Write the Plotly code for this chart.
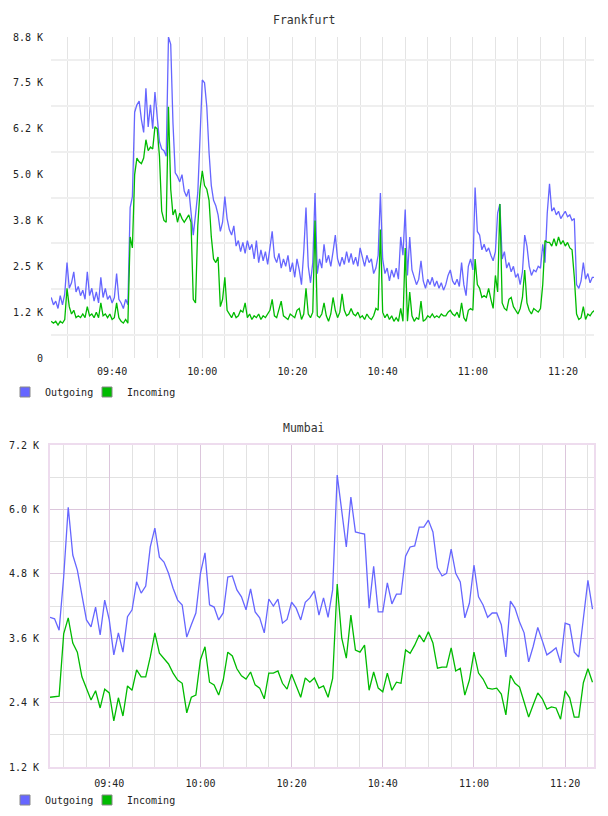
import plotly.graph_objects as go
import pandas as pd

# ---------------- data ----------------
fra_start = "2024-01-01 09:26:30"   # 30 s samples
fra_out = [
    1650, 1450, 1550, 1350, 1700, 1450, 1750, 2600, 1900, 2050,
    2350, 1800, 1950, 1700, 1850, 1600, 2350, 1700, 1900, 1550,
    1800, 1500, 2200, 1650, 1900, 1600, 1700, 1500, 1650, 2300,
    1600, 1500, 1350, 1600, 1450, 4100, 4400, 6700, 6900, 7000,
    6500, 6150, 7350, 6300, 6900, 6250, 7250, 6600, 5900, 5700,
    5650, 5500, 8750, 8550, 6400, 5050, 4950, 4800, 5000, 4550,
    4400, 4600, 4000, 3350, 3900, 4500, 6000, 7580, 7500, 6850,
    5600, 4700, 4300, 4150, 3900, 3450, 3700, 4400, 3800, 3500,
    3350, 3600, 3050, 3200, 2900, 3150, 2850, 3200, 2950, 3100,
    2700, 3200, 2600, 2950, 2650, 2900, 2550, 3000, 3450, 2750,
    2600, 2850, 2450, 2700, 2500, 2800, 2350, 2600, 2200, 2700,
    2400, 2000, 2900, 4100, 2500, 2050, 2600, 4500, 2300, 2700,
    2450, 3100, 2600, 2800, 2500, 2900, 3350, 2700, 2500, 2750,
    2550, 2900, 2600, 2850, 2550, 2750, 2500, 3000, 2700, 2500,
    2800, 2600, 2700, 2300, 2450, 2800, 4500, 2700, 2300, 2450,
    2100, 2400, 2200, 2450, 2150, 3300, 2800, 4050, 2250, 3300,
    2400, 2200, 2000, 2150, 2650, 2100, 1900, 2150, 2000, 2200,
    1950, 2100, 1900, 2050, 1850, 2000, 2250, 2400, 2100, 2000,
    2150, 1950, 2600, 2000, 1700, 2500, 2700, 2400, 4650, 3450,
    3350, 2950, 3100, 2900, 3000, 2800, 2650, 2900, 3950, 4200,
    2700, 2900, 2450, 2600, 2350, 2500, 2200, 2300, 2000, 2350,
    3350, 3050, 2500, 2250, 2400, 2350, 2500, 2450, 3100, 2600,
    3950, 4750, 4000, 4100, 3900, 4000, 3800, 3900, 4000, 3850,
    3900, 3750, 3800, 2000, 1900, 2100, 2600, 2150, 2300, 2050,
    2200, 2200,
]
fra_in = [
    1000, 950, 1000, 900, 1000, 950, 1050, 1900, 1400, 1200,
    1300, 1100, 1150, 1100, 1200, 1100, 1400, 1150, 1200, 1100,
    1250, 1100, 1500, 1150, 1200, 1100, 1200, 1050, 1100, 1500,
    1100, 1000, 950, 1050, 950, 3300, 3000, 5000, 5450, 5350,
    5300, 5450, 5950, 5650, 5750, 5700, 6300, 6250, 5500, 4000,
    3750, 3700, 6850, 4600, 3900, 4050, 3700, 3950, 3800, 3700,
    3800, 3900, 3700, 1600, 1500, 3600, 4600, 5100, 4700, 4600,
    4300, 3300, 2700, 2600, 2750, 1400, 1600, 2200, 1300, 1200,
    1100, 1250, 1100, 1150, 1300, 1250, 1500, 1100, 1200, 1050,
    1150, 1100, 1200, 1050, 1150, 1100, 1200, 1300, 1600, 1150,
    1100, 1300, 1550, 1150, 1100, 1050, 1200, 1150, 1100, 1300,
    1350, 1050, 1200, 1900, 1200, 1100, 1250, 3750, 1150, 1100,
    1200, 1500, 1150, 1000, 1200, 1650, 1300, 1100, 1250, 1750,
    1300, 1150, 1200, 1350, 1200, 1150, 1250, 1100, 1150, 1050,
    1200, 1100, 1050, 1150, 1350, 1300, 3500, 1250, 1100, 1200,
    1050, 1150, 1000, 1100, 1000, 1350, 1000, 3000, 1000, 1800,
    1150, 1000, 1100, 1050, 1550, 1000, 1050, 1150, 1100, 1200,
    1100, 1150, 1100, 1200, 1150, 1150, 1250, 1300, 1200, 1150,
    1250, 1100, 1500, 1100, 1000, 1300, 1350, 1300, 2700, 2000,
    1900, 1650, 1700, 1650, 1900, 1600, 1350, 2250, 1800, 4200,
    1500, 1350, 1300, 1600, 1650, 1400, 1300, 1200, 1350, 1650,
    2400, 1500, 1300, 1200, 1350, 1300, 1250, 1350, 2000, 3200,
    3150, 3150, 3050, 3250, 3050, 3300, 3100, 3200, 3050, 3150,
    3000, 2950, 2200, 1200, 1050, 1100, 1400, 1050, 1200, 1150,
    1250, 1300,
]

mum_start = "2024-01-01 09:27:00"   # 1 min samples
mum_out = [
    3990, 3960, 3750, 4740, 6040, 5150, 4870, 4400, 3940, 3810,
    4180, 3660, 4310, 3940, 3290, 3700, 3340, 4000, 4130, 4650,
    4440, 4570, 5300, 5650, 5110, 5020, 4810, 4530, 4310, 4220,
    3620, 3850, 4070, 4810, 5190, 4220, 4180, 3940, 4070, 4740,
    4760, 4500, 4370, 4130, 4520, 4090, 3980, 3700, 4330, 4200,
    4330, 3880, 3950, 4270, 4160, 3940, 4270, 4350, 4480, 4030,
    4350, 3990, 4500, 6640, 5990, 5300, 6230, 5580, 5560, 5540,
    4160, 4940, 4090, 4090, 4630, 4240, 4420, 4420, 5130, 5300,
    5320, 5670, 5670, 5800, 5580, 4910, 4760, 4810, 5260, 4810,
    4650, 3980, 4250, 4960, 4370, 4220, 3990, 4070, 4070, 3850,
    3250, 4290, 4160, 3900, 3700, 3160, 3450, 3800, 3550, 3290,
    3350, 3420, 3140, 3880, 3850, 3340, 3250, 3950, 4680, 4140,
]
mum_in = [
    2500, 2510, 2520, 3680, 3980, 3510, 3340, 2880, 2670, 2450,
    2620, 2300, 2650, 2580, 2060, 2490, 2150, 2710, 2630, 3010,
    2880, 2880, 3250, 3700, 3320, 3210, 3120, 2950, 2820, 2760,
    2210, 2500, 2540, 3200, 3440, 2780, 2730, 2540, 2820, 3340,
    3270, 3030, 2900, 2840, 2970, 2730, 2670, 2470, 2950, 2950,
    2990, 2760, 2650, 2930, 2730, 2500, 2860, 2780, 2860, 2670,
    2710, 2500, 2850, 4610, 3600, 3230, 4030, 3380, 3340, 3470,
    2630, 2970, 2670, 2600, 2950, 2630, 2780, 2760, 3380, 3320,
    3470, 3660, 3530, 3720, 3510, 3040, 3060, 3060, 3420, 2990,
    3040, 2540, 2820, 3340, 2950, 2840, 2670, 2650, 2670, 2560,
    2170, 2910, 2760, 2690, 2410, 2130, 2360, 2580, 2470, 2280,
    2320, 2300, 2090, 2620, 2490, 2130, 2130, 2770, 3030, 2780,
]

fra_yticks = [0, 1250, 2500, 3750, 5000, 6250, 7500, 8750]
fra_ylabels = ["0", "1.2 K", "2.5 K", "3.8 K", "5.0 K", "6.2 K", "7.5 K", "8.8 K"]
mum_yticks = [1200, 2400, 3600, 4800, 6000, 7200]
mum_ylabels = ["1.2 K", "2.4 K", "3.6 K", "4.8 K", "6.0 K", "7.2 K"]
series_names = ["Outgoing", "Incoming"]
titles = ["Frankfurt", "Mumbai"]

# ---------------- figure ----------------
W, H = 608, 816
BLUE = "#6666ff"
GREEN = "#00bb00"
MONO = "DejaVu Sans Mono"

fra_t = pd.date_range(fra_start, periods=len(fra_out), freq="30s")
mum_t = pd.date_range(mum_start, periods=len(mum_out), freq="1min")

fig = go.Figure()
fig.add_trace(go.Scatter(x=fra_t, y=fra_out, mode="lines", line=dict(color=BLUE, width=1.3),
                         xaxis="x", yaxis="y", showlegend=False))
fig.add_trace(go.Scatter(x=fra_t, y=fra_in, mode="lines", line=dict(color=GREEN, width=1.3),
                         xaxis="x", yaxis="y", showlegend=False))
fig.add_trace(go.Scatter(x=mum_t, y=mum_out, mode="lines", line=dict(color=BLUE, width=1.3),
                         xaxis="x2", yaxis="y2", showlegend=False))
fig.add_trace(go.Scatter(x=mum_t, y=mum_in, mode="lines", line=dict(color=GREEN, width=1.3),
                         xaxis="x2", yaxis="y2", showlegend=False))

# legend swatches (one legend box per entry so they can be placed exactly)
legend_ids = [("legend", "legend2"), ("legend3", "legend4")]
for (lo, li), xa, ya in zip(legend_ids, ("x", "x2"), ("y", "y2")):
    for leg, name, col in zip((lo, li), series_names, (BLUE, GREEN)):
        fig.add_trace(go.Scatter(x=[None], y=[None], mode="markers", name=name,
                                 marker=dict(symbol="square", size=10, color=col,
                                             line=dict(color="#888888", width=1)),
                                 xaxis=xa, yaxis=ya, legend=leg, showlegend=True))

def py(px):
    return 1 - px / H

tickfont = dict(family=MONO, size=10, color="#222222")

def legend_box(x_px, y_px):
    return dict(orientation="h", x=x_px / W, xanchor="left", y=py(y_px), yanchor="middle",
                font=dict(family=MONO, size=10, color="#222222"),
                bgcolor="rgba(0,0,0,0)", itemclick=False, itemdoubleclick=False)

fig.update_layout(
    width=W, height=H, autosize=False,
    margin=dict(l=0, r=0, t=0, b=0, pad=0, autoexpand=False),
    paper_bgcolor="white", plot_bgcolor="white",
    showlegend=True,
    xaxis=dict(
        domain=[51 / W, 594 / W], anchor="y", type="date",
        range=["2024-01-01 09:26:27", "2024-01-01 11:26:52"],
        tickformat="%H:%M", tick0="2024-01-01 09:00", dtick=20 * 60 * 1000,
        showgrid=True, gridcolor="#e4e4e4", gridwidth=1,
        minor=dict(dtick=5 * 60 * 1000, tick0="2024-01-01 09:00", showgrid=True,
                   gridcolor="#e4e4e4", gridwidth=1),
        zeroline=False, showline=False, ticks="", tickfont=tickfont, ticklabelstandoff=6,
    ),
    yaxis=dict(
        domain=[py(358), py(37)], anchor="x",
        range=[0, 8750], tickmode="array", tickvals=fra_yticks, ticktext=fra_ylabels,
        showgrid=False,
        minor=dict(tickmode="array", tickvals=[v + 625 for v in fra_yticks[:-1]],
                   showgrid=True, gridcolor="#efefef", gridwidth=2),
        zeroline=False, showline=False, ticks="", tickfont=tickfont, ticklabelstandoff=7,
    ),
    xaxis2=dict(
        domain=[50 / W, 594 / W], anchor="y2", type="date",
        range=["2024-01-01 09:27:00", "2024-01-01 11:26:20"],
        tickformat="%H:%M", tick0="2024-01-01 09:00", dtick=20 * 60 * 1000,
        showgrid=True, gridcolor="#dcc6dc", gridwidth=1,
        minor=dict(dtick=5 * 60 * 1000, tick0="2024-01-01 09:00", showgrid=True,
                   gridcolor="#e2e2e2", gridwidth=1),
        zeroline=False, showline=True, linecolor="#eedcee", linewidth=2, mirror=True,
        ticks="", tickfont=tickfont, ticklabelstandoff=6,
    ),
    yaxis2=dict(
        domain=[py(767), py(445)], anchor="x2",
        range=[1200, 7200], tickmode="array", tickvals=mum_yticks, ticktext=mum_ylabels,
        showgrid=True, gridcolor="#dcc6dc", gridwidth=1,
        minor=dict(tickmode="array", tickvals=[v + 600 for v in mum_yticks[:-1]],
                   showgrid=True, gridcolor="#e2e2e2", gridwidth=1),
        zeroline=False, showline=True, linecolor="#eedcee", linewidth=2, mirror=True,
        ticks="", tickfont=tickfont, ticklabelstandoff=7,
    ),
    legend=legend_box(5, 392),
    legend2=legend_box(87, 392),
    legend3=legend_box(5, 800),
    legend4=legend_box(87, 800),
    annotations=[
        dict(text=titles[0], x=0.5, y=py(20), xref="paper", yref="paper", showarrow=False,
             xanchor="center", yanchor="middle",
             font=dict(family=MONO, size=11.5, color="#333333")),
        dict(text=titles[1], x=0.5, y=py(428), xref="paper", yref="paper", showarrow=False,
             xanchor="center", yanchor="middle",
             font=dict(family=MONO, size=11.5, color="#333333")),
    ],
)

fig.write_html("out.html")
